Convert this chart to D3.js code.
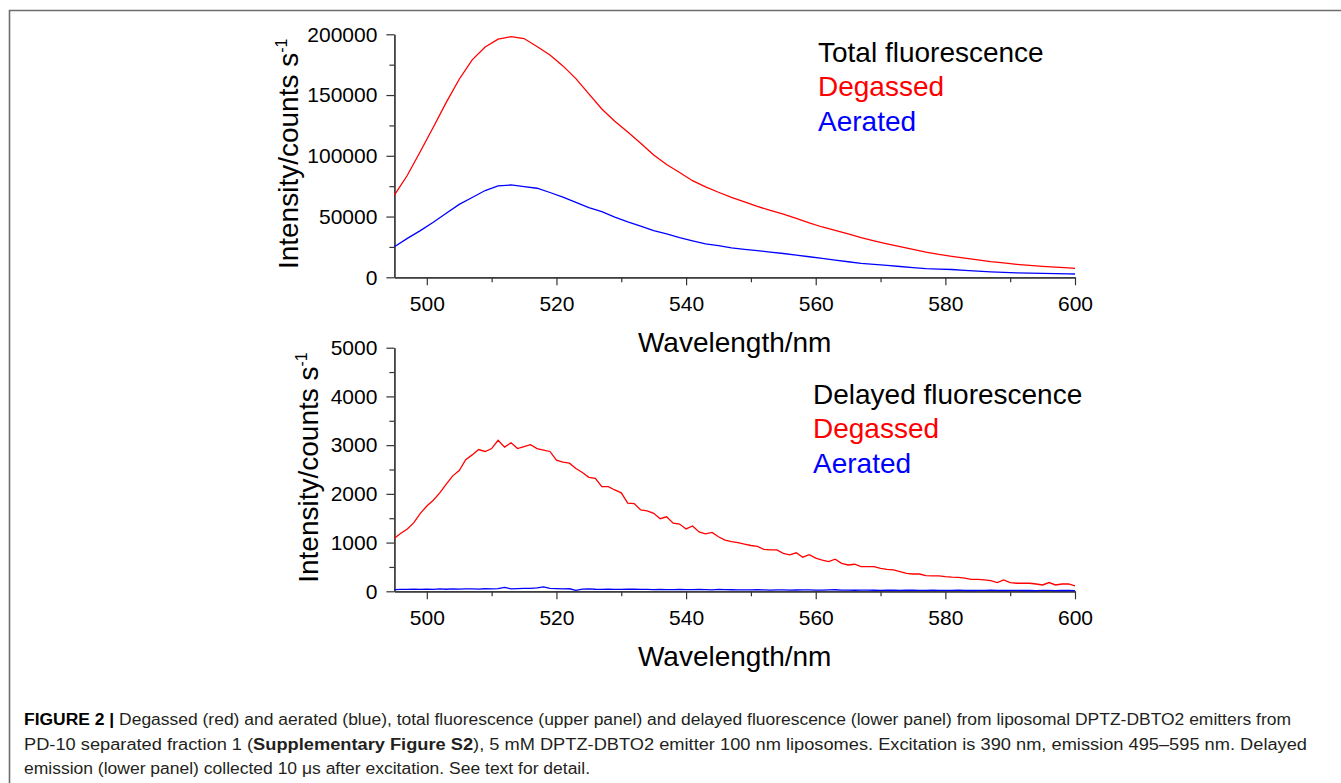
<!DOCTYPE html>
<html>
  <head>
    <meta charset="UTF-8">
    <script src="https://d3js.org/d3.v7.min.js"></script>
    <style>
        body {
            margin: 0;
            background: #fff;
        }
        svg {
            display: block;
            font-family: "Liberation Sans", Arial, sans-serif;
        }
        .tick text {
            font-size: 21px;
            fill: #000;
        }
        .axis path, .axis line {
            stroke: #333;
            stroke-width: 1.2px;
        }
        .axisTitle {
            font-size: 28px;
            fill: #000;
        }
        .legend {
            font-size: 28px;
        }
        .caption {
            font-size: 16px;
            fill: #231f20;
        }
        .curve {
            fill: none;
            stroke-width: 1.3px;
        }
    </style>
  </head>
  <body>
    <script>
        // total fluorescence, read every 2 nm
        let totalNm = [495, 497, 499, 501, 503, 505, 507, 509, 511, 513, 515, 517, 519, 521, 523, 525, 527, 529,
            531, 533, 535, 537, 539, 541, 543, 545, 547, 549, 551, 553, 555, 557, 559, 561, 563, 565, 567, 569,
            571, 573, 575, 577, 579, 581, 583, 585, 587, 589, 591, 593, 595, 597, 599, 600]
        let totalDegassed = [67700, 84000, 103500, 123500, 144000, 163000, 179000, 189500, 196000, 198000, 196500,
            190000, 183000, 174000, 163500, 151000, 138500, 128500, 119500, 110300, 100700, 92800, 86200, 79500,
            74500, 70000, 65800, 62000, 58300, 55000, 52000, 48500, 44800, 41400, 38600, 35800, 32700, 30000,
            27500, 25200, 23000, 20700, 18800, 17200, 15700, 14300, 12900, 11800, 10700, 9800, 9000, 8400, 7700, 7400]
        let totalAerated = [25200, 32000, 38400, 45300, 52700, 60000, 65700, 71400, 75200, 76000, 74600, 73300,
            69800, 66000, 61600, 57400, 54000, 49500, 45700, 42200, 38400, 35800, 32600, 30000, 27500, 26000,
            24200, 23000, 21900, 20800, 19600, 18200, 16900, 15500, 14100, 12800, 11500, 10600, 9800, 8900, 8000,
            7200, 6800, 6400, 5700, 5100, 4500, 4100, 3700, 3500, 3300, 3000, 2800, 2700]

        // delayed fluorescence, read every 1 nm
        let delayedNm = [495, 496, 497, 498, 499, 500, 501, 502, 503, 504, 505, 506, 507, 508, 509, 510, 511, 512,
            513, 514, 515, 516, 517, 518, 519, 520, 521, 522, 523, 524, 525, 526, 527, 528, 529, 530, 531, 532,
            533, 534, 535, 536, 537, 538, 539, 540, 541, 542, 543, 544, 545, 546, 547, 548, 549, 550, 551, 552,
            553, 554, 555, 556, 557, 558, 559, 560, 561, 562, 563, 564, 565, 566, 567, 568, 569, 570, 571, 572,
            573, 574, 575, 576, 577, 578, 579, 580, 581, 582, 583, 584, 585, 586, 587, 588, 589, 590, 591, 592,
            593, 594, 595, 596, 597, 598, 599, 600]
        let delayedDegassed = [1090, 1190, 1280, 1410, 1600, 1750, 1870, 2020, 2200, 2370, 2480, 2700, 2800, 2910,
            2870, 2930, 3100, 2960, 3050, 2930, 2970, 3010, 2930, 2900, 2870, 2690, 2650, 2630, 2520, 2440, 2340,
            2320, 2150, 2150, 2080, 2020, 1810, 1800, 1670, 1650, 1600, 1490, 1530, 1400, 1380, 1280, 1340, 1220,
            1180, 1210, 1120, 1050, 1020, 1000, 970, 940, 920, 860, 850, 850, 780, 750, 790, 700, 750, 680, 640,
            610, 660, 575, 540, 555, 505, 505, 505, 470, 450, 440, 405, 370, 355, 355, 320, 315, 315, 300, 290,
            285, 270, 245, 245, 235, 220, 180, 235, 180, 165, 165, 165, 150, 130, 180, 130, 150, 150, 110]
        let delayedAerated = [35, 38, 40, 42, 38, 45, 40, 48, 42, 50, 45, 48, 50, 46, 52, 50, 55, 80, 50, 55, 58,
            60, 70, 90, 60, 55, 50, 52, 20, 45, 48, 42, 40, 45, 38, 40, 42, 45, 38, 40, 35, 38, 36, 35, 38, 34, 36,
            40, 35, 30, 38, 36, 32, 30, 28, 30, 32, 28, 26, 30, 28, 25, 27, 30, 28, 26, 24, 28, 32, 26, 24, 22, 25,
            24, 22, 20, 24, 22, 20, 22, 24, 20, 18, 22, 20, 18, 20, 22, 18, 16, 20, 18, 22, 18, 16, 18, 20, 16, 18,
            15, 17, 19, 15, 16, 18, 14]

        let xMajorTicks = [500, 520, 540, 560, 580, 600]
        let xMinorTicks = [510, 530, 550, 570, 590]
        let totalMajorTicks = [0, 50000, 100000, 150000, 200000]
        let totalMinorTicks = [25000, 75000, 125000, 175000]
        let delayedMajorTicks = [0, 1000, 2000, 3000, 4000, 5000]
        let delayedMinorTicks = [500, 1500, 2500, 3500, 4500]

        let seriesColors = ['#ff0000', '#0000ff']
        let legendLabels = ['Degassed', 'Aerated']

        let captionLines = [
            ['FIGURE 2 | ', 'Degassed (red) and aerated (blue), total fluorescence (upper panel) and delayed fluorescence (lower panel) from liposomal DPTZ-DBTO2 emitters from'],
            ['PD-10 separated fraction 1 (', 'Supplementary Figure S2', '), 5 mM DPTZ-DBTO2 emitter 100 nm liposomes. Excitation is 390 nm, emission 495–595 nm. Delayed'],
            ['emission (lower panel) collected 10 μs after excitation. See text for detail.']
        ]

        let svg = d3.select('body').append('svg')
            .attr('width', 1341)
            .attr('height', 783)

        // figure frame (top and left rules)
        svg.append('path')
            .attr('d', 'M9.5,783 V10.5 H1341')
            .attr('fill', 'none')
            .attr('stroke', '#6d6d6d')
            .attr('stroke-width', 1.6)

        let x = d3.scaleLinear().domain([495, 600]).range([394.4, 1075])

        let panels = [
            {nm: totalNm, series: [totalDegassed, totalAerated], yMax: 200000, top: 34.3, bottom: 277.3,
                major: totalMajorTicks, minor: totalMinorTicks, titleX: 298, title: 'Total fluorescence',
                legendX: 818, legendY: 62},
            {nm: delayedNm, series: [delayedDegassed, delayedAerated], yMax: 5000, top: 347.7, bottom: 591.3,
                major: delayedMajorTicks, minor: delayedMinorTicks, titleX: 318, title: 'Delayed fluorescence',
                legendX: 813, legendY: 404}
        ]

        panels.forEach(p => {
            let y = d3.scaleLinear().domain([0, p.yMax]).range([p.bottom, p.top])
            let g = svg.append('g')

            g.append('g')
                .attr('class', 'axis')
                .attr('transform', `translate(0, ${p.bottom})`)
                .call(d3.axisBottom(x).tickValues(xMinorTicks).tickSizeInner(5).tickSizeOuter(0).tickFormat(''))
            g.append('g')
                .attr('class', 'axis')
                .attr('transform', `translate(0, ${p.bottom})`)
                .call(d3.axisBottom(x).tickValues(xMajorTicks).tickSizeInner(8).tickSizeOuter(0).tickPadding(11))

            g.append('g')
                .attr('class', 'axis')
                .attr('transform', `translate(${x(495)}, 0)`)
                .call(d3.axisLeft(y).tickValues(p.minor).tickSizeInner(5).tickSizeOuter(0).tickFormat(''))
            g.append('g')
                .attr('class', 'axis')
                .attr('transform', `translate(${x(495)}, 0)`)
                .call(d3.axisLeft(y).tickValues(p.major).tickSizeInner(8).tickSizeOuter(0).tickPadding(9)
                    .tickFormat(d3.format('d')))

            g.selectAll('.axis .domain').attr('stroke', '#333')

            g.append('text')
                .attr('class', 'axisTitle')
                .attr('text-anchor', 'middle')
                .attr('x', (x(495) + x(600)) / 2)
                .attr('y', p.bottom + 74.5)
                .text('Wavelength/nm')

            let yTitle = g.append('text')
                .attr('class', 'axisTitle')
                .attr('text-anchor', 'middle')
                .attr('font-size', 27)
                .attr('transform', `translate(${p.titleX}, ${(p.top + p.bottom) / 2 - 2}) rotate(-90)`)
            yTitle.append('tspan').text('Intensity/counts s')
            yTitle.append('tspan').attr('dy', -11).attr('font-size', 16).text('-1')

            let line = d3.line()
                .x((d, i) => x(p.nm[i]))
                .y(d => y(d))

            p.series.forEach((values, k) => {
                g.append('path')
                    .datum(values)
                    .attr('class', 'curve')
                    .attr('stroke', seriesColors[k])
                    .attr('d', line)
            })

            let legendTexts = [p.title].concat(legendLabels)
            g.selectAll('.legend')
                .data(legendTexts)
                .enter()
                .append('text')
                .attr('class', 'legend')
                .attr('x', p.legendX)
                .attr('y', (d, i) => p.legendY + i * 34.3)
                .attr('fill', (d, i) => i === 0 ? '#000' : seriesColors[i - 1])
                .text(d => d)
        })

        // caption
        let captionWidths = [1267, 1283, 566]
        let captionBaselines = [725, 750, 774]
        captionLines.forEach((parts, i) => {
            let t = svg.append('text')
                .attr('class', 'caption')
                .attr('x', 24)
                .attr('y', captionBaselines[i])
                .attr('textLength', captionWidths[i])
                .attr('lengthAdjust', 'spacingAndGlyphs')
            parts.forEach((s, j) => {
                let bold = (i === 0 && j === 0) || (i === 1 && j === 1)
                t.append('tspan')
                    .attr('font-weight', bold ? 'bold' : null)
                    .attr('fill', bold && i === 0 ? '#000' : null)
                    .text(s)
            })
        })
    </script>
  </body>
</html>
